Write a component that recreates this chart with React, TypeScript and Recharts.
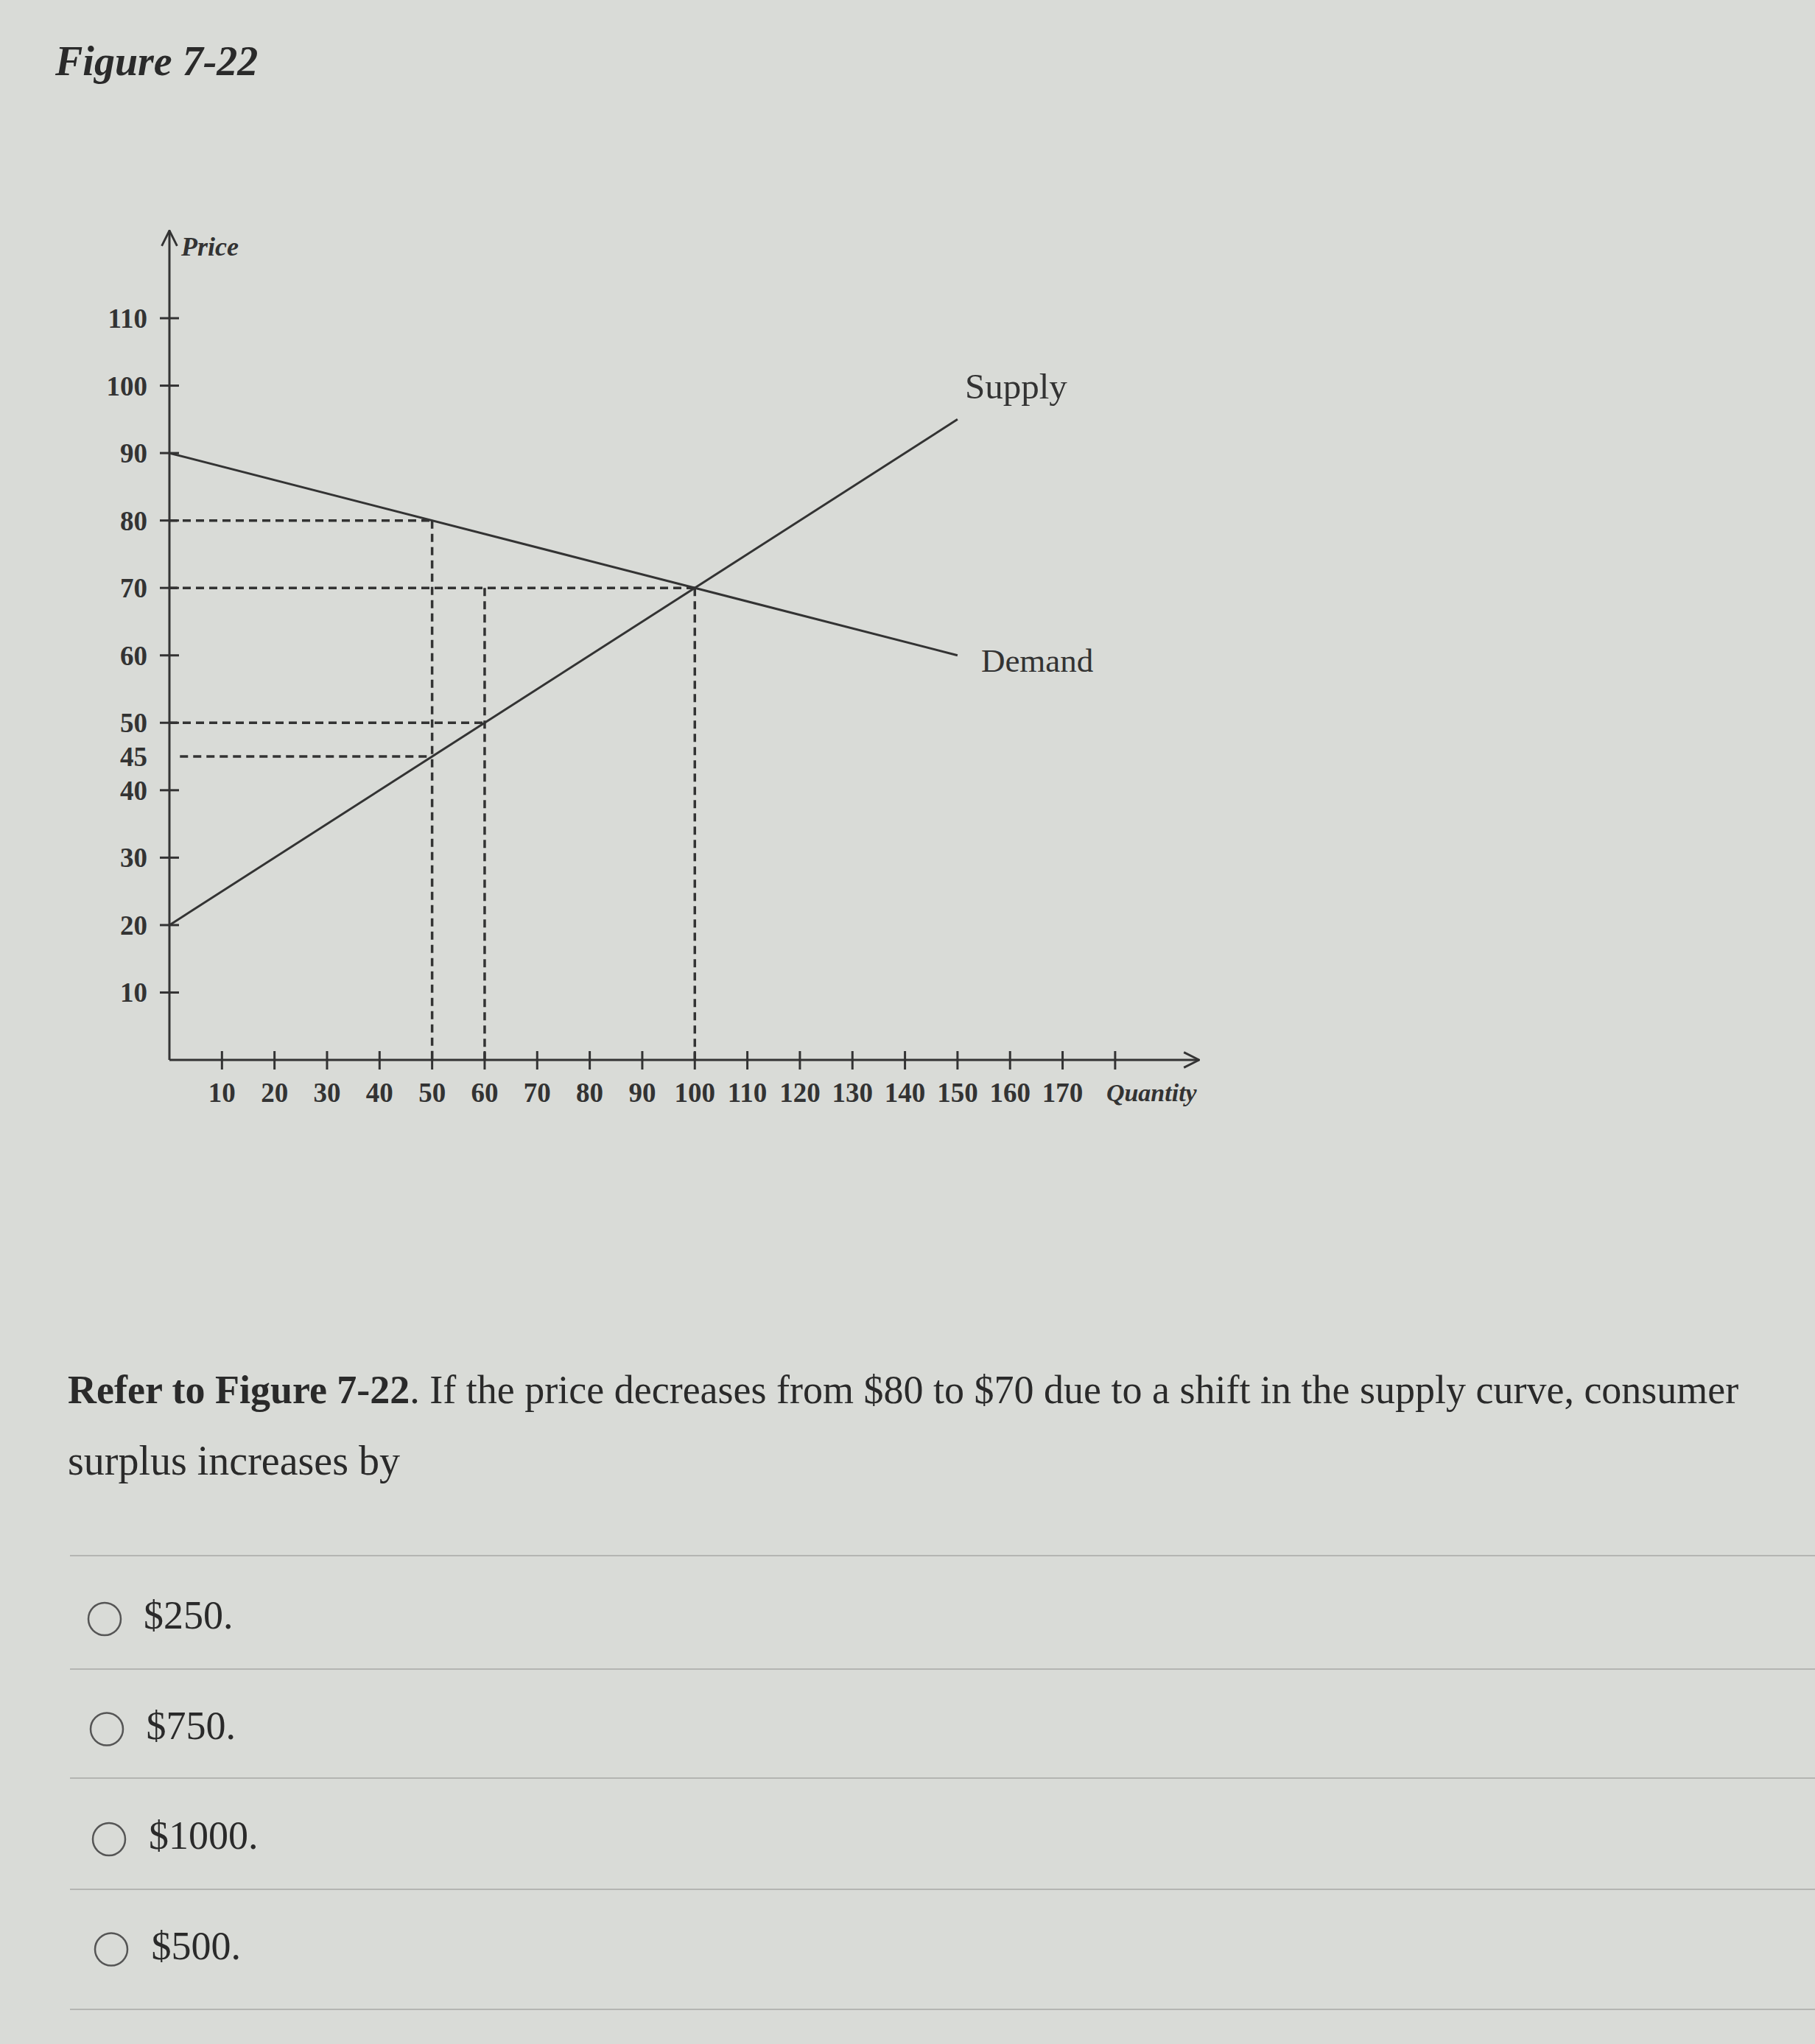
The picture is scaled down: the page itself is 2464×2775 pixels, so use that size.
import React from "react";
import { LineChart, Line, XAxis, YAxis, ReferenceLine, ReferenceDot } from "recharts";

// axis ticks
const quantityTicks = [10, 20, 30, 40, 50, 60, 70, 80, 90, 100, 110, 120, 130, 140, 150, 160, 170, 180];
const priceTicks = [10, 20, 30, 40, 45, 50, 60, 70, 80, 90, 100, 110];
const labelOnlyPrices = [45];

// curves
const demandQty = [0, 150];
const demandPrice = [90, 60];
const supplyQty = [0, 150];
const supplyPrice = [20, 95];

// dashed guides
const hGuidePrice = [80, 70, 50, 45];
const hGuideFrom = [0, 0, 0, 2];
const hGuideTo = [50, 100, 60, 50];
const vGuideQty = [50, 60, 100];
const vGuideTop = [80, 70, 70];

const answers = ["$250.", "$750.", "$1000.", "$500."];

const demandData = demandQty.map((q, i) => ({ q, p: demandPrice[i] }));
const supplyData = supplyQty.map((q, i) => ({ q, p: supplyPrice[i] }));

const ink = "#333";
const serif = "'Liberation Serif', 'Times New Roman', serif";

const QtyTick = (props: any) => {
  const { x, y, payload } = props;
  const v = payload.value;
  return (
    <g>
      <line x1={x} x2={x} y1={y - 12} y2={y + 13} stroke={ink} strokeWidth={3} />
      {v === 180 ? (
        <text x={x - 12} y={y + 56} fontFamily={serif} fontSize={34} fontStyle="italic" fontWeight="bold" fill={ink}>
          Quantity
        </text>
      ) : (
        <text x={x} y={y + 57} textAnchor="middle" fontFamily={serif} fontSize={37} fontWeight="bold" fill={ink}>
          {v}
        </text>
      )}
    </g>
  );
};

const PriceTick = (props: any) => {
  const { x, y, payload } = props;
  const v = payload.value;
  return (
    <g>
      {!labelOnlyPrices.includes(v) && (
        <line x1={x - 13} x2={x + 13} y1={y} y2={y} stroke={ink} strokeWidth={3} />
      )}
      <text x={x - 30} y={y + 13} textAnchor="end" fontFamily={serif} fontSize={37} fontWeight="bold" fill={ink}>
        {v}
      </text>
    </g>
  );
};

const PriceLabel = (props: any) => {
  const { viewBox } = props;
  return (
    <text x={viewBox.x + viewBox.width + 16} y={viewBox.y + 34} fontFamily={serif} fontSize={36} fontStyle="italic" fontWeight="bold" fill={ink}>
      Price
    </text>
  );
};

const CurveLabel = (props: any) => {
  const { viewBox, text, dx, dy, size } = props;
  return (
    <text x={viewBox.x + dx} y={viewBox.y + dy} fontFamily={serif} fontSize={size} fill={ink}>
      {text}
    </text>
  );
};

const SupplyDemand = () => (
  <LineChart width={1700} height={1560} margin={{ top: 313, right: 72, bottom: 61, left: 150 }}>
    <defs>
      <marker id="arrowHead" viewBox="0 0 20 20" refX="19" refY="10" markerWidth="26" markerHeight="26" markerUnits="userSpaceOnUse" orient="auto-start-reverse">
        <path d="M3,2 L19,10 L3,18" fill="none" stroke={ink} strokeWidth="2.2" />
      </marker>
    </defs>
    <XAxis
      dataKey="q"
      type="number"
      domain={[0, 196]}
      allowDataOverflow
      ticks={quantityTicks}
      interval={0}
      height={60}
      tickSize={0}
      tickMargin={0}
      tickLine={false}
      tick={<QtyTick />}
      axisLine={{ stroke: ink, strokeWidth: 3, markerEnd: "url(#arrowHead)" }}
    />
    <YAxis
      dataKey="p"
      type="number"
      domain={[0, 123]}
      allowDataOverflow
      ticks={priceTicks}
      interval={0}
      width={80}
      tickSize={0}
      tickMargin={0}
      tickLine={false}
      tick={<PriceTick />}
      axisLine={{ stroke: ink, strokeWidth: 3, markerStart: "url(#arrowHead)" }}
      label={<PriceLabel />}
    />
    {hGuidePrice.map((p, i) => (
      <ReferenceLine
        key={"h" + i}
        segment={[{ x: hGuideFrom[i], y: p }, { x: hGuideTo[i], y: p }]}
        stroke={ink}
        strokeWidth={3.5}
        strokeDasharray="11 7"
      />
    ))}
    {vGuideQty.map((q, i) => (
      <ReferenceLine
        key={"v" + i}
        segment={[{ x: q, y: vGuideTop[i] }, { x: q, y: 0 }]}
        stroke={ink}
        strokeWidth={3.5}
        strokeDasharray="11 7"
      />
    ))}
    <Line data={demandData} dataKey="p" type="linear" stroke={ink} strokeWidth={3} dot={false} isAnimationActive={false} />
    <Line data={supplyData} dataKey="p" type="linear" stroke={ink} strokeWidth={3} dot={false} isAnimationActive={false} />
    <ReferenceDot x={supplyQty[1]} y={supplyPrice[1]} r={0} fill="none" stroke="none" label={<CurveLabel text="Supply" dx={10} dy={-28} size={49} />} />
    <ReferenceDot x={demandQty[1]} y={demandPrice[1]} r={0} fill="none" stroke="none" label={<CurveLabel text="Demand" dx={32} dy={22} size={45} />} />
  </LineChart>
);

export default function App() {
  return (
    <div style={{ position: "absolute", left: 0, top: 0, width: 2464, height: 2775, overflow: "hidden", background: "#d9dbd7" }}>
      <svg width={2464} height={2775} style={{ position: "absolute", left: 0, top: 0 }}>
        <text x={75} y={102} fontFamily={serif} fontSize={56} fontStyle="italic" fontWeight="bold" fill="#2a2a2a">
          Figure 7-22
        </text>
        <text x={92} y={1905} fontFamily={serif} fontSize={54} fill="#2a2a2a">
          <tspan fontWeight="bold">Refer to Figure 7-22</tspan>. If the price decreases from $80 to $70 due to a shift in the supply curve, consumer
        </text>
        <text x={92} y={2002} fontFamily={serif} fontSize={56} fill="#2a2a2a">
          surplus increases by
        </text>
        {[2112, 2266, 2414, 2565, 2728].map((y, i) => (
          <line key={i} x1={95} x2={2464} y1={y} y2={y} stroke="#b4b5b2" strokeWidth={2} />
        ))}
        {answers.map((a, i) => (
          <g key={a}>
            <circle cx={142 + i * 3} cy={2198 + i * 149.5} r={22} fill="none" stroke="#555" strokeWidth={2.5} />
            <text x={195 + i * 3.5} y={2211 + i * 149.5} fontFamily={serif} fontSize={54} fill="#2a2a2a">
              {a}
            </text>
          </g>
        ))}
      </svg>
      <div style={{ position: "absolute", left: 0, top: 0 }}>
        <SupplyDemand />
      </div>
    </div>
  );
}
